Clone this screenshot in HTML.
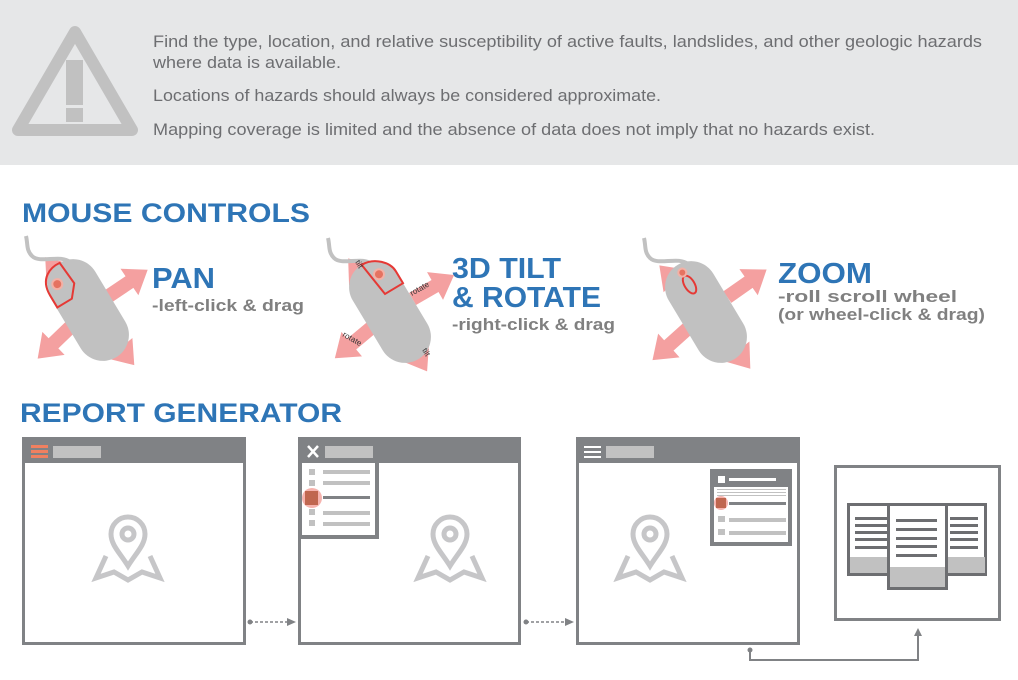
<!DOCTYPE html>
<html><head><meta charset="utf-8"><style>
body{margin:0;width:1018px;height:675px;background:#fff;overflow:hidden;font-family:"Liberation Sans",sans-serif}
</style></head><body>
<svg width="1018" height="675" viewBox="0 0 1018 675" xmlns="http://www.w3.org/2000/svg" font-family="Liberation Sans, sans-serif">
<defs>
<g id="arr"><polygon points="0,-7 26,-7 26,-16 48,0 26,16 26,7 0,7" fill="#f4a0a0"/></g>
<path id="cord" d="M-18,-48 C-28,-56 -48,-46 -56,-54 C-62,-60 -60,-66 -62,-74" fill="none" stroke="#c1c1c1" stroke-width="4"/>
<rect id="body" x="-26" y="-55" width="52" height="110" rx="26" fill="#c1c1c1"/>
<g id="pin" fill="none" stroke="#c6c6c8" stroke-width="5">
<path d="M-22,8 L-32,30 L-14,24 L0,32 L14,24 L32,30 L22,8"/>
<path d="M0,18 C-8,5 -17,-3 -17,-14 A17,17 0 0 1 17,-14 C17,-3 8,5 0,18 Z"/>
<circle cx="0" cy="-14" r="6"/>
</g>
</defs>
<rect x="0" y="0" width="1018" height="165" fill="#e6e7e8"/>
<path d="M75,32 L132,130 L18,130 Z" fill="none" stroke="#c1c1c1" stroke-width="12" stroke-linejoin="round"/>
<rect x="66" y="60" width="17" height="45" fill="#c1c1c1"/>
<rect x="66" y="108" width="17" height="14" fill="#c1c1c1"/>
<g fill="#6d6e71" font-size="17">
<text x="153" y="47" textLength="829" lengthAdjust="spacingAndGlyphs">Find the type, location, and relative susceptibility of active faults, landslides, and other geologic hazards</text>
<text x="153" y="68" textLength="188" lengthAdjust="spacingAndGlyphs">where data is available.</text>
<text x="153" y="101" textLength="508" lengthAdjust="spacingAndGlyphs">Locations of hazards should always be considered approximate.</text>
<text x="153" y="135" textLength="722" lengthAdjust="spacingAndGlyphs">Mapping coverage is limited and the absence of data does not imply that no hazards exist.</text>
</g>
<g fill="#2e75b6" font-weight="bold">
<text x="22" y="222" font-size="27" textLength="288" lengthAdjust="spacingAndGlyphs">MOUSE CONTROLS</text>
<text x="20" y="422" font-size="27" textLength="322" lengthAdjust="spacingAndGlyphs">REPORT GENERATOR</text>
<text x="152" y="288" font-size="29" textLength="63" lengthAdjust="spacingAndGlyphs">PAN</text>
<text x="452" y="278" font-size="29" textLength="109" lengthAdjust="spacingAndGlyphs">3D TILT</text>
<text x="452" y="307" font-size="29" textLength="149" lengthAdjust="spacingAndGlyphs">&amp; ROTATE</text>
<text x="778" y="283" font-size="29" textLength="94" lengthAdjust="spacingAndGlyphs">ZOOM</text>
</g>
<g fill="#808080" font-weight="bold" font-size="17">
<text x="152" y="311" textLength="152" lengthAdjust="spacingAndGlyphs">-left-click &amp; drag</text>
<text x="452" y="330" textLength="163" lengthAdjust="spacingAndGlyphs">-right-click &amp; drag</text>
<text x="778" y="302" textLength="179" lengthAdjust="spacingAndGlyphs">-roll scroll wheel</text>
<text x="778" y="320" textLength="207" lengthAdjust="spacingAndGlyphs">(or wheel-click &amp; drag)</text>
</g>
<g transform="translate(88,310)">
<use href="#arr" transform="rotate(-129) translate(20,0)"/>
<use href="#arr" transform="rotate(-34) translate(24,0)"/>
<use href="#arr" transform="rotate(136) translate(22,0)"/>
<use href="#arr" transform="rotate(50) translate(24,0)"/>
<use href="#cord"/>
<g transform="rotate(-31)"><use href="#body"/>
<path d="M-25,-32 C-25,-52 -10,-56 0,-55 L2,-30 L-8,-18 L-25,-18 Z" fill="none" stroke="#e53935" stroke-width="2"/>
<circle cx="-13" cy="-38" r="5" fill="#e57361" stroke="#f3b1a6" stroke-width="2"/></g>
</g>
<g transform="translate(390,312)">
<use href="#arr" transform="rotate(-128) translate(20,0)"/>
<use href="#arr" transform="rotate(-30) translate(26,0)"/>
<use href="#arr" transform="rotate(140) translate(24,0)"/>
<use href="#arr" transform="rotate(58) translate(22,0)"/>
<use href="#cord"/>
<g transform="rotate(-31)"><use href="#body"/>
<path d="M0,-55 C15,-55 26,-42 26,-32 L26,-18 L5,-18 Z" fill="none" stroke="#e53935" stroke-width="2"/>
<circle cx="10" cy="-38" r="5" fill="#e57361" stroke="#f3b1a6" stroke-width="2"/></g>
<g font-size="8" fill="#333"><text x="-35" y="-50" transform="rotate(60 -35 -50)">tilt</text><text x="22" y="-16" transform="rotate(-30 22 -16)">rotate</text><text x="-48" y="24" transform="rotate(30 -48 24)">rotate</text><text x="32" y="38" transform="rotate(60 32 38)">tilt</text></g>
</g>
<g transform="translate(706,312)">
<use href="#arr" transform="rotate(-135) translate(18,0)"/>
<use href="#arr" transform="rotate(-35) translate(26,0)"/>
<use href="#arr" transform="rotate(138) translate(24,0)"/>
<use href="#arr" transform="rotate(52) translate(24,0)"/>
<use href="#cord"/>
<g transform="rotate(-31)"><use href="#body"/>
<ellipse cx="0" cy="-32" rx="5" ry="10" fill="none" stroke="#e53935" stroke-width="2"/>
<circle cx="0" cy="-46" r="4" fill="#e57361" stroke="#f3b1a6" stroke-width="2"/></g>
</g>
<g stroke="#808285" stroke-width="3" fill="#fff">
<rect x="23.5" y="438.5" width="221" height="205"/>
<rect x="299.5" y="438.5" width="220" height="205"/>
<rect x="577.5" y="438.5" width="221" height="205"/>
<rect x="835.5" y="466.5" width="164" height="153"/>
</g>
<g fill="#808285"><rect x="22" y="437" width="224" height="26"/><rect x="298" y="437" width="223" height="26"/><rect x="576" y="437" width="224" height="26"/></g>
<rect x="53" y="446" width="48" height="12" fill="#c1c1c1"/>
<g fill="#f08060"><rect x="31" y="445" width="17" height="3"/><rect x="31" y="450" width="17" height="3"/><rect x="31" y="455" width="17" height="3"/></g>
<rect x="325" y="446" width="48" height="12" fill="#c1c1c1"/>
<path d="M308,446 L318,457 M318,446 L308,457" stroke="#fff" stroke-width="2.5"/>
<rect x="606" y="446" width="48" height="12" fill="#c1c1c1"/>
<g fill="#fff"><rect x="584" y="446" width="17" height="2"/><rect x="584" y="451" width="17" height="2"/><rect x="584" y="456" width="17" height="2"/></g>
<use href="#pin" transform="translate(128,548)"/>
<use href="#pin" transform="translate(450,548)"/>
<use href="#pin" transform="translate(650,548)"/>
<rect x="300" y="463" width="79" height="76" fill="#808285"/>
<rect x="302" y="463" width="73" height="72" fill="#fff"/>
<g fill="#c1c1c1"><rect x="309" y="469" width="6" height="6"/><rect x="323" y="470" width="47" height="4"/><rect x="309" y="480" width="6" height="6"/><rect x="323" y="481" width="47" height="4"/><rect x="309" y="509" width="6" height="6"/><rect x="323" y="511" width="47" height="4"/><rect x="309" y="520" width="6" height="6"/><rect x="323" y="522" width="47" height="4"/></g>
<rect x="323" y="496" width="47" height="3" fill="#808285"/>
<circle cx="312" cy="498" r="10" fill="#f6b3ae"/><rect x="305" y="491" width="13" height="14" fill="#c0664f"/>
<rect x="710" y="469" width="82" height="77" fill="#808285"/>
<rect x="714" y="487" width="74" height="55" fill="#fff"/>
<rect x="718" y="476" width="7" height="7" fill="#fff"/><rect x="729" y="478" width="47" height="3" fill="#fff"/>
<g fill="#c1c1c1"><rect x="717" y="489" width="69" height="1"/><rect x="717" y="492" width="69" height="1"/><rect x="717" y="495" width="69" height="1"/><rect x="718" y="516" width="7" height="6"/><rect x="729" y="518" width="57" height="4"/><rect x="718" y="529" width="7" height="6"/><rect x="729" y="531" width="57" height="4"/></g>
<rect x="729" y="502" width="57" height="3" fill="#808285"/>
<circle cx="721" cy="503" r="7" fill="#f6b3ae"/><rect x="716" y="498" width="10" height="10" fill="#c0664f"/>
<g stroke="#6d6e71" stroke-width="3">
<rect x="848.5" y="504.5" width="40" height="70" fill="#fff"/>
<rect x="946.5" y="504.5" width="39" height="70" fill="#fff"/>
</g>
<rect x="850" y="557" width="38" height="16" fill="#c1c1c1"/><rect x="948" y="557" width="37" height="16" fill="#c1c1c1"/>
<rect x="888.5" y="504.5" width="58" height="84" fill="#fff" stroke="#6d6e71" stroke-width="3"/>
<rect x="890" y="567" width="55" height="20" fill="#c1c1c1"/>
<g fill="#6d6e71">
<rect x="855" y="517" width="32" height="3"/><rect x="855" y="524" width="32" height="3"/><rect x="855" y="531" width="32" height="3"/><rect x="855" y="538" width="32" height="3"/><rect x="855" y="546" width="32" height="3"/>
<rect x="950" y="517" width="28" height="3"/><rect x="950" y="524" width="28" height="3"/><rect x="950" y="531" width="28" height="3"/><rect x="950" y="538" width="28" height="3"/><rect x="950" y="546" width="28" height="3"/>
<rect x="896" y="519" width="41" height="3"/><rect x="896" y="528" width="41" height="3"/><rect x="896" y="537" width="41" height="3"/><rect x="896" y="545" width="41" height="3"/><rect x="896" y="554" width="41" height="3"/>
</g>
<g stroke="#808285" stroke-width="1.5" fill="none">
<path d="M250,622 L288,622" stroke-dasharray="3,2"/>
<path d="M526,622 L566,622" stroke-dasharray="3,2"/>
<path d="M750,650 L750,660 L918,660 L918,634" stroke-width="2"/>
</g>
<g fill="#808285">
<circle cx="250" cy="622" r="2.5"/><polygon points="287,618 296,622 287,626"/>
<circle cx="526" cy="622" r="2.5"/><polygon points="565,618 574,622 565,626"/>
<circle cx="750" cy="650" r="2.5"/><polygon points="914,636 918,628 922,636"/>
</g>
</svg>
</body></html>
